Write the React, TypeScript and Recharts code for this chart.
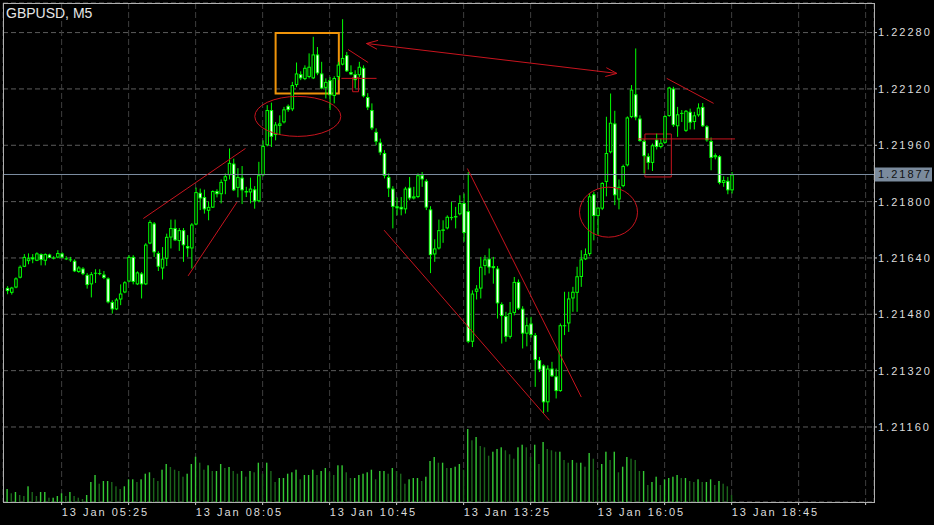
import {
  Bar,
  CartesianGrid,
  ComposedChart,
  ReferenceArea,
  ReferenceDot,
  ReferenceLine,
  XAxis,
  YAxis,
} from "recharts";

// GBPUSD M5, 13 Jan 04:20 .. 18:45, one entry per bar
const opens = [
  1.21555, 1.21541, 1.21556, 1.21584, 1.21615, 1.21631, 1.21642, 1.21632, 1.21651, 1.21632,
  1.2165, 1.21641, 1.21641, 1.21653, 1.21639, 1.21636, 1.21632, 1.216, 1.2161, 1.21592,
  1.21565, 1.21596, 1.21595, 1.21593, 1.21582, 1.21515, 1.21494, 1.21522, 1.21542, 1.21573,
  1.21643, 1.21565, 1.21596, 1.21565, 1.21681, 1.21738, 1.21654, 1.2161, 1.21638, 1.21698,
  1.21725, 1.21688, 1.21719, 1.21674, 1.21667, 1.21735, 1.21825, 1.21813, 1.21774, 1.21783,
  1.2183, 1.21821, 1.21859, 1.21875, 1.21908, 1.21839, 1.21868, 1.2183, 1.21826, 1.21835,
  1.21801, 1.21875, 1.2196, 1.2206, 1.21989, 1.22015, 1.22025, 1.22072, 1.22062, 1.22131,
  1.22162, 1.22148, 1.22154, 1.2215, 1.22218, 1.22164, 1.22123, 1.22145, 1.221, 1.22154,
  1.22189, 1.22216, 1.22168, 1.22162, 1.22159, 1.2218, 1.22097, 1.2206, 1.21998, 1.21968,
  1.21938, 1.2187, 1.21837, 1.21787, 1.21785, 1.21778, 1.2184, 1.21809, 1.21813, 1.21875,
  1.21859, 1.21778, 1.2165, 1.21667, 1.21717, 1.21724, 1.21754, 1.21755, 1.21764, 1.21796,
  1.21773, 1.21402, 1.21544, 1.21553, 1.21617, 1.21638, 1.21617, 1.2161, 1.21509, 1.21475,
  1.21416, 1.21484, 1.21572, 1.21496, 1.21425, 1.21454, 1.21421, 1.2135, 1.21335, 1.2123,
  1.21326, 1.21304, 1.21262, 1.21446, 1.21454, 1.21525, 1.21541, 1.21586, 1.21636, 1.21651,
  1.21821, 1.21759, 1.2178, 1.21856, 1.2194, 1.22022, 1.21806, 1.21844, 1.21903, 1.2204,
  1.22105, 1.22036, 1.21972, 1.21929, 1.2191, 1.21976, 1.21955, 1.21967, 1.22043, 1.22121,
  1.22014, 1.22051, 1.22001, 1.22055, 1.22026, 1.22045, 1.22069, 1.22014, 1.21972, 1.21926,
  1.21929, 1.21853, 1.21859, 1.21832,
];
const highs = [
  1.2156, 1.21558, 1.21585, 1.21619, 1.21651, 1.21653, 1.21651, 1.21656, 1.21653, 1.21653,
  1.21652, 1.21645, 1.21662, 1.21656, 1.21645, 1.21643, 1.21636, 1.21617, 1.21614, 1.21597,
  1.216, 1.21608, 1.21608, 1.21603, 1.21585, 1.2152, 1.21526, 1.21565, 1.21574, 1.21648,
  1.21648, 1.21602, 1.216, 1.21682, 1.21747, 1.21742, 1.21659, 1.21671, 1.21709, 1.21749,
  1.21749, 1.21725, 1.21725, 1.21705, 1.21739, 1.2184, 1.21837, 1.21834, 1.21801, 1.21832,
  1.21835, 1.21863, 1.2188, 1.21951, 1.21922, 1.21895, 1.21901, 1.21842, 1.21868, 1.21844,
  1.21913, 1.21974, 1.22074, 1.22081, 1.22026, 1.22045, 1.22069, 1.22076, 1.2214, 1.22195,
  1.2217, 1.22187, 1.22221, 1.22268, 1.22239, 1.22197, 1.2215, 1.22154, 1.22156, 1.22197,
  1.22318, 1.22225, 1.22187, 1.22173, 1.22197, 1.22187, 1.22108, 1.22079, 1.22008, 1.21979,
  1.21946, 1.2188, 1.21844, 1.21812, 1.21813, 1.21842, 1.2187, 1.21842, 1.2188, 1.21884,
  1.21864, 1.21787, 1.21693, 1.21749, 1.21747, 1.21761, 1.21799, 1.21785, 1.21818, 1.21823,
  1.21884, 1.21548, 1.21563, 1.21643, 1.21648, 1.21667, 1.21643, 1.21617, 1.21514, 1.21487,
  1.21515, 1.21586, 1.21579, 1.21503, 1.21471, 1.21473, 1.21427, 1.21359, 1.21338, 1.21335,
  1.21345, 1.21326, 1.21454, 1.21544, 1.21544, 1.21558, 1.21615, 1.21662, 1.21667, 1.21824,
  1.21828, 1.21784, 1.21855, 1.22041, 1.22107, 1.22058, 1.21863, 1.21905, 1.22042, 1.22131,
  1.22235, 1.22045, 1.21977, 1.21937, 1.21965, 1.21993, 1.21979, 1.22045, 1.22126, 1.22126,
  1.22069, 1.2206, 1.2206, 1.22064, 1.22055, 1.22079, 1.2208, 1.22017, 1.21982, 1.21937,
  1.21932, 1.21872, 1.2187, 1.21884,
];
const lows = [
  1.21537, 1.21536, 1.21554, 1.21582, 1.21614, 1.21622, 1.21625, 1.21631, 1.21619, 1.21619,
  1.21639, 1.21636, 1.21639, 1.21639, 1.21634, 1.21629, 1.216, 1.21598, 1.21591, 1.21553,
  1.21528, 1.21569, 1.21591, 1.2158, 1.21511, 1.21482, 1.21492, 1.21506, 1.2154, 1.21571,
  1.21565, 1.21563, 1.21525, 1.21563, 1.21679, 1.21643, 1.21603, 1.21579, 1.21617, 1.21667,
  1.21688, 1.2166, 1.21629, 1.21643, 1.2161, 1.21733, 1.21776, 1.21766, 1.21747, 1.21782,
  1.21812, 1.21795, 1.21821, 1.21863, 1.2183, 1.21812, 1.21793, 1.21813, 1.21795, 1.2178,
  1.21798, 1.21872, 1.21957, 1.21955, 1.21974, 1.21989, 1.22022, 1.22055, 1.22057, 1.22125,
  1.22145, 1.22145, 1.2215, 1.22148, 1.22159, 1.22119, 1.22093, 1.2206, 1.22079, 1.22145,
  1.22187, 1.22168, 1.22159, 1.22122, 1.22153, 1.22096, 1.2206, 1.22003, 1.2196, 1.21932,
  1.21866, 1.21813, 1.21724, 1.21761, 1.21761, 1.21766, 1.21804, 1.21806, 1.2181, 1.21842,
  1.21776, 1.21597, 1.21629, 1.21664, 1.21683, 1.21721, 1.21747, 1.21724, 1.21761, 1.21686,
  1.21398, 1.21387, 1.21522, 1.21525, 1.21591, 1.21596, 1.21567, 1.21468, 1.21397, 1.21402,
  1.21411, 1.21477, 1.21492, 1.21383, 1.21389, 1.21414, 1.21274, 1.21316, 1.212, 1.21203,
  1.21302, 1.21241, 1.2126, 1.21421, 1.2143, 1.21487, 1.21487, 1.21558, 1.21634, 1.21645,
  1.2169, 1.21705, 1.21776, 1.21815, 1.21937, 1.2179, 1.21778, 1.21841, 1.219, 1.22037,
  1.22031, 1.2197, 1.2188, 1.21891, 1.21887, 1.21948, 1.21951, 1.21965, 1.22041, 1.22012,
  1.21984, 1.22026, 1.21998, 1.22005, 1.22005, 1.22041, 1.22012, 1.2197, 1.21889, 1.2192,
  1.21849, 1.21842, 1.21821, 1.21823,
];
const closes = [
  1.21546, 1.21556, 1.21582, 1.21615, 1.21643, 1.21639, 1.21636, 1.21653, 1.21634, 1.21651,
  1.2164, 1.21639, 1.21654, 1.21641, 1.21636, 1.21634, 1.21602, 1.21613, 1.21594, 1.21563,
  1.21594, 1.21598, 1.21597, 1.21583, 1.21514, 1.21494, 1.21522, 1.21539, 1.21571, 1.21643,
  1.21572, 1.21599, 1.21565, 1.21678, 1.21742, 1.21656, 1.21615, 1.21638, 1.217, 1.21725,
  1.2169, 1.21719, 1.21676, 1.21667, 1.21735, 1.21827, 1.21809, 1.21778, 1.21785, 1.2183,
  1.21821, 1.21856, 1.21872, 1.2191, 1.21832, 1.2187, 1.21832, 1.21826, 1.21837, 1.21801,
  1.21875, 1.21958, 1.2206, 1.21984, 1.22019, 1.22022, 1.22062, 1.2206, 1.22131, 1.22164,
  1.2215, 1.2218, 1.22183, 1.22218, 1.22164, 1.22121, 1.2214, 1.22102, 1.22151, 1.22189,
  1.22208, 1.2217, 1.22161, 1.22145, 1.22183, 1.22099, 1.22067, 1.22008, 1.2197, 1.21939,
  1.21873, 1.21837, 1.21785, 1.21781, 1.21778, 1.21837, 1.21809, 1.21815, 1.21875, 1.21863,
  1.21783, 1.21648, 1.21667, 1.21719, 1.21721, 1.21757, 1.21756, 1.21759, 1.21796, 1.21711,
  1.21402, 1.21539, 1.21553, 1.21615, 1.21636, 1.21613, 1.21611, 1.21511, 1.21475, 1.21416,
  1.21484, 1.21572, 1.21496, 1.21425, 1.21449, 1.21421, 1.2135, 1.21323, 1.2123, 1.21326,
  1.21304, 1.21262, 1.21449, 1.21449, 1.21525, 1.21544, 1.21588, 1.21636, 1.21651, 1.21815,
  1.21759, 1.21783, 1.21853, 1.21938, 1.22024, 1.21818, 1.21842, 1.21901, 1.22039, 1.22118,
  1.22039, 1.21972, 1.21929, 1.2191, 1.2196, 1.21955, 1.21967, 1.22043, 1.22124, 1.22017,
  1.22048, 1.22052, 1.22058, 1.22024, 1.22045, 1.22067, 1.22014, 1.21974, 1.21924, 1.21932,
  1.21853, 1.21861, 1.21832, 1.21877,
];
const volumes = [
  130, 87, 100, 70, 60, 157, 100, 60, 100, 100,
  43, 43, 60, 87, 60, 100, 60, 43, 30, 70,
  200, 270, 183, 210, 210, 200, 157, 130, 157, 227,
  227, 200, 227, 283, 297, 240, 210, 323, 380, 350,
  323, 310, 253, 283, 380, 453, 393, 323, 367, 310,
  310, 380, 340, 350, 310, 283, 310, 253, 310, 297,
  393, 283, 393, 310, 200, 240, 240, 283, 297, 323,
  227, 270, 270, 323, 270, 310, 340, 297, 270, 367,
  367, 297, 240, 240, 270, 283, 297, 323, 227, 310,
  310, 283, 340, 310, 283, 183, 227, 240, 240, 210,
  253, 410, 450, 393, 393, 340, 340, 353, 380, 323,
  730, 617, 650, 560, 547, 463, 503, 530, 547, 517,
  477, 433, 547, 573, 547, 450, 573, 380, 600, 530,
  517, 503, 503, 420, 393, 420, 393, 393, 353, 490,
  433, 323, 380, 503, 420, 503, 297, 353, 450, 433,
  420, 310, 310, 170, 200, 253, 170, 227, 240, 253,
  270, 240, 240, 210, 200, 227, 200, 200, 227, 170,
  210, 183, 157, 70,
];

const priceTicks = [1.2116, 1.2132, 1.2148, 1.2164, 1.218, 1.2196, 1.2212, 1.2228];
const gridBars = [13, 29, 45, 61, 77, 93, 109, 125, 141, 157, 173, 189, 205];
const labelBars = [13, 45, 77, 109, 141, 173];
const timeLabels = ["13 Jan 05:25", "13 Jan 08:05", "13 Jan 10:45", "13 Jan 13:25", "13 Jan 16:05", "13 Jan 18:45"];
const lastPrice = 1.21877;

// objects drawn on the chart, in bar index / price
const trendLines = [
  { x1: 32.5, y1: 1.21752, x2: 56.9, y2: 1.21951 },
  { x1: 43.2, y1: 1.21589, x2: 54.9, y2: 1.21799 },
  { x1: 81.4, y1: 1.22232, x2: 86.2, y2: 1.22195 },
  { x1: 79.8, y1: 1.2215, x2: 88.2, y2: 1.2215 },
  { x1: 90.0, y1: 1.21719, x2: 129.5, y2: 1.21179 },
  { x1: 109.9, y1: 1.21894, x2: 137.1, y2: 1.21245 },
  { x1: 157.5, y1: 1.2215, x2: 168.7, y2: 1.22079 },
  { x1: 150.6, y1: 1.21978, x2: 173.8, y2: 1.21978 },
];
const arrowLine = { x1: 85.8, y1: 1.22249, x2: 145.6, y2: 1.22164 };
const redBoxes = [
  { x1: 82.5, x2: 83.9, y1: 1.22112, y2: 1.22153 },
  { x1: 152.3, x2: 158.6, y1: 1.2187, y2: 1.21992 },
];
const orangeBox = { x1: 64.1, x2: 79.2, y1: 1.22107, y2: 1.22279 };
const ellipses = [
  { x: 69.4, y: 1.22042, rx: 43, ry: 20 },
  { x: 143.6, y: 1.2177, rx: 29, ry: 25 },
];

const rows = opens.map((open, i) => ({
  bar: i,
  open,
  high: highs[i],
  low: lows[i],
  close: closes[i],
  range: [lows[i], highs[i]],
  volume: volumes[i],
  volUp: i === 0 || volumes[i] >= volumes[i - 1],
}));

const GREEN = "#00ff00";
const RED = "#c8141e";
const FONT = "'Liberation Sans', Arial, sans-serif";

function Candle(props: any) {
  const { x, y, width, height, payload } = props;
  const { open, close, high, low } = payload;
  const h = Math.abs(height);
  const top = Math.min(y, y + height);
  const k = high === low ? 0 : h / (high - low);
  const yOf = (p: number) => top + (high - p) * k;
  const c = x + width / 2;
  const bTop = yOf(Math.max(open, close));
  const bBot = Math.max(bTop + 1, yOf(Math.min(open, close)));
  const bull = close >= open;
  return (
    <g>
      <rect x={c - 0.5} y={top} width={1} height={Math.max(1, h)} fill={GREEN} />
      <rect x={c - 1.75} y={bTop} width={3.5} height={bBot - bTop} fill={GREEN} />
      {bBot - bTop > 2 && (
        <rect x={c - 0.75} y={bTop + 1} width={1.5} height={bBot - bTop - 2} fill={bull ? "#000" : "#fff"} />
      )}
    </g>
  );
}

function VolumeBar(props: any) {
  const { x, y, width, height, payload } = props;
  const c = x + width / 2;
  return (
    <rect x={c - 0.7} y={y} width={1.4} height={height} fill={payload.volUp ? "#34c934" : "#1b651b"} />
  );
}

function TimeTick(props: any) {
  const { x, y, payload } = props;
  const k = labelBars.indexOf(payload.value);
  if (k < 0) return null;
  return (
    <text x={x} y={y + 9} textAnchor="start" fill="#dcdcdc" fontSize={11} letterSpacing={2} fontFamily={FONT}>
      {timeLabels[k]}
    </text>
  );
}

function ArrowShape(props: any) {
  const { x1, y1, x2, y2 } = props;
  const a = Math.atan2(y2 - y1, x2 - x1);
  const len = 12;
  const spread = 0.38;
  const head = (px: number, py: number, dir: number) => (
    <>
      <line x1={px} y1={py} x2={px + len * Math.cos(dir + spread)} y2={py + len * Math.sin(dir + spread)} stroke={RED} />
      <line x1={px} y1={py} x2={px + len * Math.cos(dir - spread)} y2={py + len * Math.sin(dir - spread)} stroke={RED} />
    </>
  );
  return (
    <g>
      <line x1={x1} y1={y1} x2={x2} y2={y2} stroke={RED} />
      {head(x1, y1, a)}
      {head(x2, y2, a + Math.PI)}
    </g>
  );
}

function PriceTag(props: any) {
  const { viewBox } = props;
  if (!viewBox) return null;
  const x = viewBox.x + viewBox.width;
  const y = viewBox.y;
  return (
    <g>
      <rect x={x + 1} y={y - 7} width={57} height={14} fill="#7b8b9d" />
      <text x={x + 4} y={y + 4} fill="#111" fontSize={11} letterSpacing={2} fontFamily={FONT}>
        {lastPrice.toFixed(5)}
      </text>
    </g>
  );
}

export default function App() {
  return (
    <div style={{ position: "absolute", left: 0, top: 0, width: 934, height: 525, background: "#000", overflow: "hidden" }}>
      <ComposedChart
        width={934}
        height={525}
        data={rows}
        margin={{ top: 3, left: 3, right: 0, bottom: 0 }}
        style={{ fontFamily: FONT }}
      >
        <CartesianGrid vertical={false} stroke="#5c5c5c" strokeDasharray="5 3" />
        <CartesianGrid horizontal={false} stroke="#3e3e3e" strokeDasharray="6 3" />
        <XAxis
          dataKey="bar"
          type="number"
          domain={[-1, 207]}
          ticks={gridBars}
          interval={0}
          height={23}
          axisLine={false}
          tickLine={{ stroke: "#c8c8c8" }}
          tickSize={3}
          tick={<TimeTick />}
          allowDataOverflow
        />
        <XAxis xAxisId="vol" dataKey="bar" type="number" domain={[-1, 207]} hide allowDataOverflow />
        <YAxis
          orientation="right"
          width={60}
          domain={[1.20947, 1.22364]}
          ticks={priceTicks}
          interval={0}
          allowDataOverflow
          axisLine={false}
          tickLine={{ stroke: "#c8c8c8" }}
          tickSize={3}
          tickMargin={1}
          tickFormatter={(v: number) => v.toFixed(5)}
          tick={{ fill: "#dcdcdc", fontSize: 11, letterSpacing: 2, textAnchor: "start" }}
        />
        <YAxis yAxisId="vol" domain={[0, 4990]} hide allowDataOverflow />
        <Bar
          xAxisId="vol"
          yAxisId="vol"
          dataKey="volume"
          barSize={2}
          shape={<VolumeBar />}
          isAnimationActive={false}
        />
        <ReferenceLine y={lastPrice} stroke="#7d8ea2" label={<PriceTag />} />
        <Bar dataKey="range" barSize={3} shape={<Candle />} isAnimationActive={false} />
        <ReferenceArea
          x1={orangeBox.x1}
          x2={orangeBox.x2}
          y1={orangeBox.y1}
          y2={orangeBox.y2}
          fill="none"
          stroke="#f0940a"
          strokeWidth={2}
        />
        {redBoxes.map((b, i) => (
          <ReferenceArea key={"rb" + i} x1={b.x1} x2={b.x2} y1={b.y1} y2={b.y2} fill="none" stroke={RED} strokeWidth={1} />
        ))}
        {trendLines.map((l, i) => (
          <ReferenceLine
            key={"tl" + i}
            segment={[{ x: l.x1, y: l.y1 }, { x: l.x2, y: l.y2 }]}
            stroke={RED}
            strokeWidth={1}
          />
        ))}
        <ReferenceLine
          segment={[{ x: arrowLine.x1, y: arrowLine.y1 }, { x: arrowLine.x2, y: arrowLine.y2 }]}
          stroke={RED}
          shape={<ArrowShape />}
        />
        {ellipses.map((e, i) => (
          <ReferenceDot
            key={"el" + i}
            x={e.x}
            y={e.y}
            r={1}
            shape={(p: any) => (
              <ellipse cx={p.cx} cy={p.cy} rx={e.rx} ry={e.ry} fill="none" stroke={RED} strokeWidth={1} />
            )}
          />
        ))}
      </ComposedChart>
      <div
        style={{
          position: "absolute",
          left: 3,
          top: 3,
          width: 872,
          height: 500,
          border: "1px solid #b0b0b0",
          boxSizing: "border-box",
          pointerEvents: "none",
        }}
      />
      <div
        style={{
          position: "absolute",
          left: 6,
          top: 6,
          fontFamily: FONT,
          fontSize: 14,
          lineHeight: "14px",
          color: "#e6e6e6",
        }}
      >
        GBPUSD, M5
      </div>
    </div>
  );
}
